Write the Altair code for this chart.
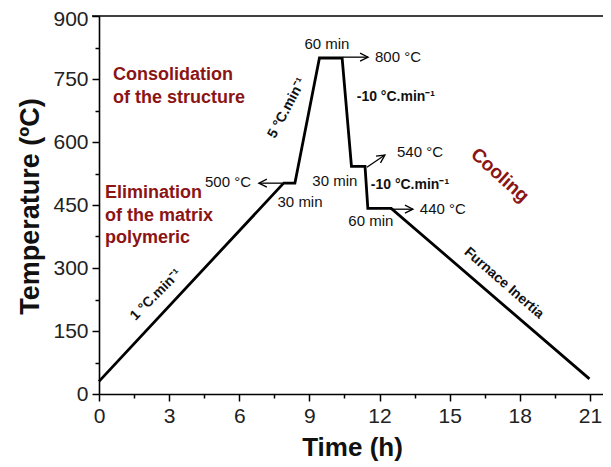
import altair as alt
import pandas as pd

# Thermal cycle (time in hours, temperature in °C)
time_h = [0, 7.9, 8.38, 9.43, 10.4, 10.8, 11.38, 11.5, 12.5, 20.98]
temp_c = [30, 502, 502, 800, 800, 542, 542, 442, 442, 36]

# Plain annotations (centre positions)
note_text = ["60 min", "800 °C", "500 °C", "30 min", "30 min", "540 °C", "440 °C", "60 min"]
note_x = [9.75, 12.79, 5.52, 8.6, 10.09, 13.73, 14.71, 11.63]
note_y = [833, 802, 505, 457, 507, 576, 440, 412]

# Bold rate annotations
rate_text = ["5 °C.min⁻¹", "-10 °C.min⁻¹", "-10 °C.min⁻¹", "1 °C.min⁻¹", "Furnace Inertia"]
rate_x = [8.04, 12.7, 13.3, 2.44, 17.32]
rate_y = [681, 707, 498, 236, 264]
rate_angle = [298, 0, 0, 315, 41]

# Stage labels (dark red, left aligned)
stage_text = ["Consolidation", "of the structure", "Elimination", "of the matrix", "polymeric"]
stage_x = [0.6, 0.6, 0.26, 0.26, 0.26]
stage_y = [760, 705, 479, 424, 371]

cool_text = ["Cooling"]
cool_x = [17.15]
cool_y = [521]
cool_angle = [42]

# Arrows
arrow_x = [10.44, 7.83, 11.46, 12.45]
arrow_x2 = [11.51, 6.84, 12.23, 13.43]
arrow_y = [802, 502, 540, 440]
arrow_y2 = [802, 502, 569, 440]
arrow_angle = [0, 180, 326, 0]

x_ticks = [i * 1.5 for i in range(15)]
y_ticks = [i * 75 for i in range(13)]

FONT = "Liberation Sans"
RED = "#8B1414"
W, H = 504, 378

xs = alt.Scale(domain=[0, 21.56], nice=False, zero=False)
ys = alt.Scale(domain=[0, 900], nice=False, zero=False)

line_df = pd.DataFrame({"t": time_h, "T": temp_c})
note_df = pd.DataFrame({"label": note_text, "x": note_x, "y": note_y})
rate_df = pd.DataFrame({"label": rate_text, "x": rate_x, "y": rate_y, "ang": rate_angle})
stage_df = pd.DataFrame({"label": stage_text, "x": stage_x, "y": stage_y})
cool_df = pd.DataFrame({"label": cool_text, "x": cool_x, "y": cool_y, "ang": cool_angle})
arrow_df = pd.DataFrame({"ax": arrow_x, "ax2": arrow_x2, "ay": arrow_y, "ay2": arrow_y2, "aang": arrow_angle})

x_axis = alt.Axis(
    values=x_ticks,
    labelExpr="datum.value % 3 === 0 ? datum.label : ''",
    tickSize={"condition": {"test": "datum.value % 3 === 0", "value": 7}, "value": 4},
    title="Time (h)",
    titleFontSize=26, titleFontWeight="bold", titleFont=FONT, titleColor="#111",
    titleBaseline="alphabetic", titleY=61, titleX=253,
    labelFontSize=21, labelFont=FONT, labelColor="#222", labelPadding=4,
    labelBaseline="top", labelFlush=False, labelOverlap=False,
    grid=False,
)
y_axis = alt.Axis(
    values=y_ticks,
    labelExpr="datum.value % 150 === 0 ? datum.label : ''",
    tickSize={"condition": {"test": "datum.value % 150 === 0", "value": 7}, "value": 4},
    labelOffset={"condition": {"test": "datum.value === 900", "value": 3}, "value": 0},
    title="Temperature (ºC)",
    titleFontSize=27, titleFontWeight="bold", titleFont=FONT, titleColor="#111",
    titleBaseline="alphabetic", titleAngle=270, titleX=-61, titleY=190,
    labelFontSize=21, labelFont=FONT, labelColor="#222", labelPadding=4,
    labelFlush=False, labelOverlap=False,
    grid=False,
)


def X(field):
    return alt.X(field, scale=xs, axis=x_axis)


def Y(field):
    return alt.Y(field, scale=ys, axis=y_axis)


line = alt.Chart(line_df).mark_line(color="black", strokeWidth=2.8, strokeJoin="miter").encode(
    x=X("t:Q"), y=Y("T:Q"),
)

top_line = alt.Chart(pd.DataFrame({"k": [0]})).mark_rule(color="black", strokeWidth=1.6).encode(
    x=alt.value(-7), x2=alt.value(W), y=alt.value(0)
)

notes = alt.Chart(note_df).mark_text(
    font=FONT, fontSize=15, color="#111", align="center", baseline="middle"
).encode(x=X("x:Q"), y=Y("y:Q"), text="label:N")

rates = alt.Chart(rate_df).mark_text(
    font=FONT, fontSize=14, fontWeight="bold", color="#111", align="center", baseline="middle"
).encode(x=X("x:Q"), y=Y("y:Q"), text="label:N", angle=alt.Angle("ang:Q", scale=None))

stages = alt.Chart(stage_df).mark_text(
    font=FONT, fontSize=18, fontWeight="bold", color=RED, align="left", baseline="middle"
).encode(x=X("x:Q"), y=Y("y:Q"), text="label:N")

cooling = alt.Chart(cool_df).mark_text(
    font=FONT, fontSize=19, fontWeight="bold", color=RED, align="center", baseline="middle"
).encode(x=X("x:Q"), y=Y("y:Q"), text="label:N", angle=alt.Angle("ang:Q", scale=None))

arrows = alt.Chart(arrow_df).mark_rule(color="black", strokeWidth=1.3).encode(
    x=X("ax:Q"), x2="ax2:Q", y=Y("ay:Q"), y2="ay2:Q",
)
heads = alt.Chart(arrow_df).mark_point(
    shape="M-2,-1L0,0L-2,1", filled=False, size=64, strokeWidth=1.3, color="black", opacity=1
).encode(x=X("ax2:Q"), y=Y("ay2:Q"), angle=alt.Angle("aang:Q", scale=None))

chart = alt.layer(line, top_line, arrows, heads, notes, rates, stages, cooling).properties(
    width=W, height=H,
    autosize=alt.AutoSizeParams(type="none"),
    padding={"left": 91, "top": 8, "right": 0, "bottom": 72},
).configure_view(stroke=None).configure_axis(
    domainColor="black", domainWidth=1.6, tickColor="black", tickWidth=1.5,
)

chart.save("out.html", embed_options={"renderer": "svg", "actions": False})
